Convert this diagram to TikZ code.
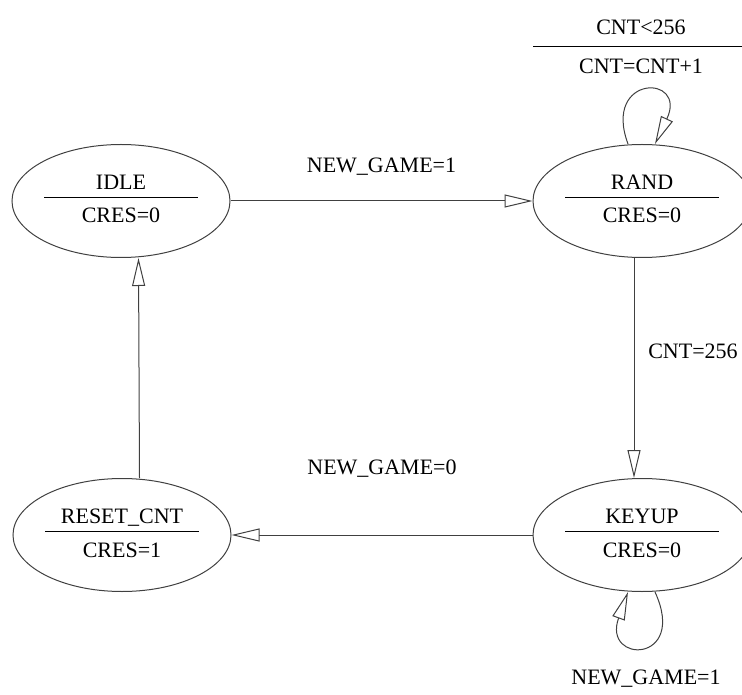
\documentclass[tikz,border=0pt]{standalone}
\usepackage{fontspec}
\setmainfont{Liberation Serif}
\usetikzlibrary{arrows.meta,shapes.geometric}

% state text: name over output, split by a rule
\newcommand{\statelabel}[2]{\begin{tabular}{@{}c@{}}\makebox[77pt]{#1}\\\hline\rule{0pt}{12.5pt}#2\end{tabular}}

\begin{document}
\begin{tikzpicture}[
  x=0.5pt, y=-0.5pt,
  >={Triangle[open, length=14pt, width=6.5pt]},
  font=\fontsize{11}{13}\selectfont,
  state/.style={draw=black!75, ellipse, line width=0.5pt, minimum width=109pt, minimum height=56.5pt, inner sep=0pt},
  trans/.style={->, draw=black!75, line width=0.5pt},
  lbl/.style={inner sep=0pt, anchor=base},
]
  \useasboundingbox (0,0) rectangle (742,694);

  \node[state] (idle)  at (121,201) {\statelabel{IDLE}{CRES=0}};
  \node[state] (rand)  at (642,201) {\statelabel{RAND}{CRES=0}};
  \node[state] (reset) at (122,535) {\statelabel{RESET\_CNT}{CRES=1}};
  \node[state] (keyup) at (642,535) {\statelabel{KEYUP}{CRES=0}};

  \draw[trans] (idle) -- node[lbl, yshift=14pt] {NEW\_GAME=1} (rand);
  \draw[trans] ([xshift=-4pt]rand.south) -- node[lbl, xshift=29.5pt, yshift=4.75pt] {CNT=256} ([xshift=-4pt]keyup.north);
  \draw[trans] (keyup) -- node[lbl, yshift=30.5pt] {NEW\_GAME=0} (reset);
  \draw[trans] ([xshift=8.75pt]reset.north) -- ([xshift=8.75pt]idle.south);

  % self loops
  \draw[trans] ([xshift=-7pt]rand.north) .. controls +(-26,-70) and +(33,-70) .. ([xshift=6.5pt]rand.north);
  \node (cntlbl) at (641,49) {\begin{tabular}{@{}c@{}}\makebox[108pt]{CNT<256}\\[1.5pt]\hline\rule{0pt}{13.5pt}CNT=CNT+1\end{tabular}};
  \draw[trans] ([xshift=6.5pt]keyup.south) .. controls +(33,72) and +(-26,72) .. ([xshift=-7pt]keyup.south);
  \node[lbl] (keylbl) at (646,684) {NEW\_GAME=1};
\end{tikzpicture}
\end{document}
